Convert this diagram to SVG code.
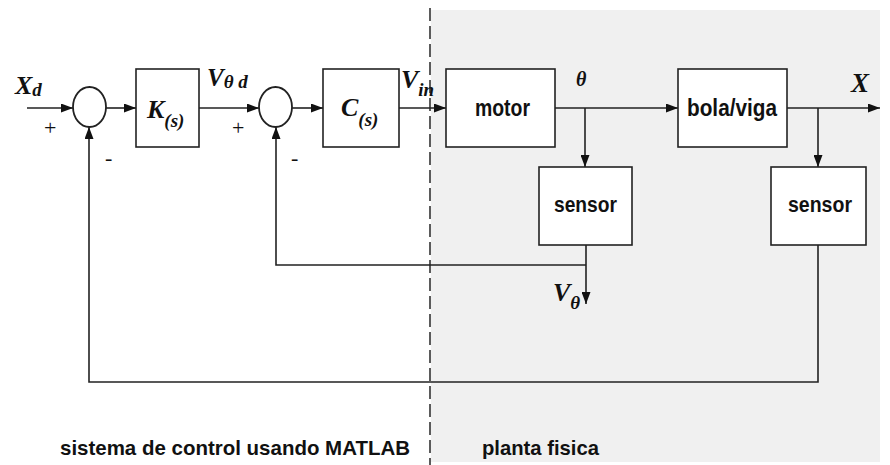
<svg xmlns="http://www.w3.org/2000/svg" width="890" height="465" viewBox="0 0 890 465">
<defs>
<marker id="ah" markerUnits="userSpaceOnUse" markerWidth="13" markerHeight="9" refX="12" refY="4.5" orient="auto">
<path d="M0,0 L12,4.5 L0,9 z" fill="#111"/>
</marker>
<style>
.blk{fill:#fff;stroke:#222;stroke-width:1.6}
.sum{fill:#fff;stroke:#222;stroke-width:1.8}
.ln{fill:none;stroke:#222;stroke-width:1.6}
.arr{fill:none;stroke:#222;stroke-width:1.6;marker-end:url(#ah)}
.math{font-family:"Liberation Serif","Times New Roman",serif;font-weight:bold;font-style:italic;fill:#111}
.lbl{font-family:"Liberation Sans Narrow","Liberation Sans",Arial,sans-serif;font-weight:bold;fill:#111}
.sgn{font-family:"Liberation Serif",serif;font-size:22px;fill:#111}
</style>
</defs>
<rect x="0" y="0" width="890" height="465" fill="#fff"/>
<rect x="431" y="10" width="449" height="452" fill="#f0f0f0"/>
<line x1="430" y1="8" x2="430" y2="465" stroke="#333" stroke-width="1.6" stroke-dasharray="13,5"/>

<g id="connectors">
<line class="arr" x1="27" y1="108" x2="73" y2="108"/>
<line class="arr" x1="106" y1="108" x2="136" y2="108"/>
<line class="arr" x1="199" y1="108" x2="259" y2="108"/>
<line class="arr" x1="292" y1="108" x2="323" y2="108"/>
<line class="arr" x1="399" y1="108" x2="446" y2="108"/>
<line class="arr" x1="555" y1="108" x2="678" y2="108"/>
<line class="arr" x1="787" y1="108" x2="880" y2="108"/>
<line class="arr" x1="585" y1="108" x2="585" y2="167"/>
<line class="arr" x1="818" y1="108" x2="818" y2="167"/>
<polyline class="arr" points="818,245 818,382 89,382 89,127"/>
<line class="arr" x1="586" y1="245" x2="586" y2="304"/>
<polyline class="arr" points="586,265 276,265 276,127"/>
</g>

<g id="sum1"><ellipse class="sum" cx="89.5" cy="107" rx="16.5" ry="20"/></g>
<g id="sum2"><ellipse class="sum" cx="275.5" cy="107" rx="16.5" ry="20"/></g>

<g id="K"><rect class="blk" x="136" y="69" width="63" height="78"/>
<text class="math" x="147" y="118" font-size="26">K<tspan font-size="19" dy="9">(s)</tspan></text></g>
<g id="C"><rect class="blk" x="323" y="69" width="76" height="78"/>
<text class="math" x="341" y="116" font-size="26">C<tspan font-size="19" dy="10">(s)</tspan></text></g>
<g id="motor"><rect class="blk" x="446" y="69" width="109" height="78"/>
<text class="lbl" x="475" y="116" font-size="23" textLength="55" lengthAdjust="spacingAndGlyphs">motor</text></g>
<g id="bola"><rect class="blk" x="678" y="69" width="109" height="78"/>
<text class="lbl" x="687" y="116" font-size="23" textLength="90" lengthAdjust="spacingAndGlyphs">bola/viga</text></g>
<g id="sensor1"><rect class="blk" x="539" y="167" width="93" height="78"/>
<text class="lbl" x="554" y="212" font-size="22" textLength="63" lengthAdjust="spacingAndGlyphs">sensor</text></g>
<g id="sensor2"><rect class="blk" x="771" y="167" width="95" height="78"/>
<text class="lbl" x="788" y="212" font-size="22" textLength="64" lengthAdjust="spacingAndGlyphs">sensor</text></g>

<g id="labels">
<text class="math" x="15" y="94" font-size="26">X<tspan font-size="19" dy="2">d</tspan></text>
<text class="sgn" x="44" y="135">+</text>
<text class="sgn" x="105" y="165">-</text>
<text class="sgn" x="232" y="135">+</text>
<text class="sgn" x="291" y="165">-</text>
<text class="math" x="207" y="86" font-size="25">V<tspan font-size="19" dy="2">θ d</tspan></text>
<text class="math" x="401" y="88" font-size="26">V<tspan font-size="19" dy="8">in</tspan></text>
<text class="math" x="576" y="86" font-size="20">θ</text>
<text class="math" x="851" y="92" font-size="27">X</text>
<text class="math" x="553" y="301" font-size="26">V<tspan font-size="19" dy="8">θ</tspan></text>
<text class="lbl" x="60" y="455" font-size="21" textLength="350" lengthAdjust="spacingAndGlyphs">sistema de control usando MATLAB</text>
<text class="lbl" x="482" y="455" font-size="21" textLength="117" lengthAdjust="spacingAndGlyphs">planta fisica</text>
</g>
</svg>
